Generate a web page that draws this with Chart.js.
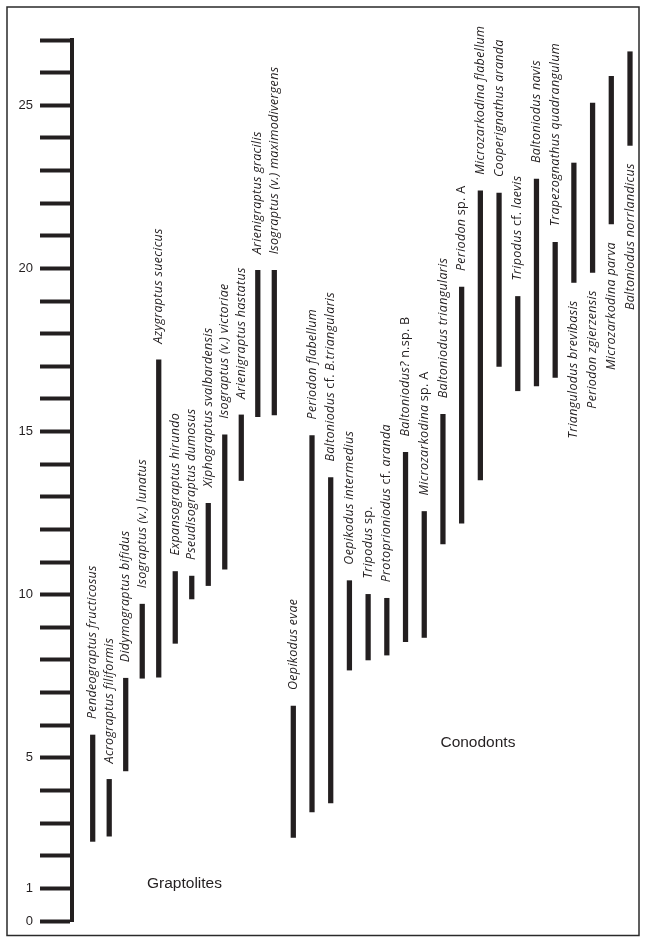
<!DOCTYPE html>
<html>
<head>
<meta charset="utf-8">
<script src="https://cdn.jsdelivr.net/npm/chart.js@4.4.1/dist/chart.umd.min.js"></script>
<style>
  html, body { margin: 0; padding: 0; background: #fff; }
  canvas { display: block; }
</style>
</head>
<body>
<canvas id="c" width="646" height="943"></canvas>
<script>
// Stratigraphic ranges (levels 0-27) of graptolite and conodont taxa
const graptoliteTaxa = [
  'Pendeograptus fructicosus', 'Acrograptus filiformis', 'Didymograptus bifidus',
  'Isograptus (v.) lunatus', 'Azygraptus suecicus', 'Expansograptus hirundo',
  'Pseudisograptus dumosus', 'Xiphograptus svalbardensis', 'Isograptus (v.) victoriae',
  'Arienigraptus hastatus', 'Arienigraptus gracilis', 'Isograptus (v.) maximodivergens'
];
const graptoliteBase = [2.44, 2.60, 4.60, 7.44, 7.47, 8.51, 9.87, 10.28, 10.78, 13.50, 15.46, 15.51];
const graptoliteTop  = [5.70, 4.34, 7.44, 9.71, 17.20, 10.71, 10.57, 12.80, 14.90, 15.51, 19.94, 19.94];

const conodontTaxa = [
  'Oepikodus evae', 'Periodon flabellum', 'Baltoniodus cf. B.triangularis',
  'Oepikodus intermedius', 'Tripodus sp.', 'Protoprioniodus cf. aranda',
  'Baltoniodus? n.sp. B', 'Microzarkodina sp. A', 'Baltoniodus triangularis',
  'Periodon sp. A', 'Microzarkodina flabellum', 'Cooperignathus aranda',
  'Tripodus cf. laevis', 'Baltoniodus navis', 'Trapezognathus quadrangulum',
  'Triangulodus brevibasis', 'Periodon zgierzensis', 'Microzarkodina parva',
  'Baltoniodus norrlandicus'
];
const conodontBase = [2.56, 3.34, 3.62, 7.69, 8.00, 8.15, 8.56, 8.69, 11.56, 12.19, 13.52, 17.00,
                      16.25, 16.40, 16.66, 19.57, 19.88, 21.36, 23.77];
const conodontTop  = [6.59, 14.88, 13.59, 10.43, 10.01, 9.89, 14.36, 12.55, 15.53, 19.43, 22.38, 22.31,
                      19.14, 22.74, 20.80, 23.23, 25.07, 25.89, 26.64];

const levelLabels = [0, 1, 5, 10, 15, 20, 25];
const levelMin = 0;
const levelMax = 27;

// ---- layout and style ----
const INK = '#231f20';
const PLOT_LEFT = 72;     // axis line
const PLOT_RIGHT = 640;
const graptoliteSpan = [92.7, 274.3];   // first / last graptolite column
const conodontSpan = [293.3, 630];      // first / last conodont column
const LABEL_GAP_ABOVE = 16;
const LABEL_GAP_BELOW = 18;
const labelsBelow = new Set(['Triangulodus brevibasis', 'Periodon zgierzensis',
                             'Microzarkodina parva', 'Baltoniodus norrlandicus']);
const LABEL_SIZE = 12.5;
const LABEL_TRACKING = '0.3px';
const LABEL_FAMILY = '"Open Sans", "Noto Sans", sans-serif';
const UPRIGHT_WORDS = /^(sp\.|n\.sp\.|cf\.|A|B)$/;

function columnScale(span, n) {
  const step = (span[1] - span[0]) / (n - 1);
  const min = -(span[0] - PLOT_LEFT) / step;
  return { min, max: min + (PLOT_RIGHT - PLOT_LEFT) / step };
}
const gCols = columnScale(graptoliteSpan, graptoliteTaxa.length);
const cCols = columnScale(conodontSpan, conodontTaxa.length);

const toRanges = (base, top) => base.map((b, i) => ({ x: i, y: [b, top[i]] }));

// taxon names as upright / italic runs
function runs(name) {
  return name.split(' ').map((w, i) => ({ text: (i ? ' ' : '') + w, italic: !UPRIGHT_WORDS.test(w) }));
}
function fontFor(run) {
  return (run.italic ? 'italic ' : '') + LABEL_SIZE + 'px ' + LABEL_FAMILY;
}

const frame = {
  id: 'frame',
  afterDraw(chart) {
    const ctx = chart.ctx;
    ctx.save();
    ctx.strokeStyle = '#2a2a2a';
    ctx.lineWidth = 1.5;
    ctx.strokeRect(7, 7, 632, 928.5);
    ctx.restore();
  }
};

const rangeLabels = {
  id: 'rangeLabels',
  afterDatasetsDraw(chart) {
    const ctx = chart.ctx;
    ctx.save();
    ctx.fillStyle = INK;
    ctx.textBaseline = 'middle';
    ctx.textAlign = 'left';
    if ('letterSpacing' in ctx) ctx.letterSpacing = LABEL_TRACKING;
    chart.data.datasets.forEach((ds, di) => {
      const meta = chart.getDatasetMeta(di);
      meta.data.forEach((bar, i) => {
        const name = ds.taxa[i];
        const parts = runs(name);
        let total = 0;
        parts.forEach(p => { ctx.font = fontFor(p); p.w = ctx.measureText(p.text).width; total += p.w; });
        const top = Math.min(bar.y, bar.base);
        const bottom = Math.max(bar.y, bar.base);
        ctx.save();
        if (labelsBelow.has(name)) {
          ctx.translate(bar.x, bottom + LABEL_GAP_BELOW + total);
        } else {
          ctx.translate(bar.x, top - LABEL_GAP_ABOVE);
        }
        ctx.rotate(-Math.PI / 2);
        let x = 0;
        parts.forEach(p => { ctx.font = fontFor(p); ctx.fillText(p.text, x, 0); x += p.w; });
        ctx.restore();
      });
    });

    // group titles
    if ('letterSpacing' in ctx) ctx.letterSpacing = '0px';
    ctx.font = '15.5px "Liberation Sans", Arial, sans-serif';
    ctx.textAlign = 'center';
    const y = chart.scales.y;
    ctx.fillText('Graptolites', chart.scales.xg.getPixelForValue(5.56), y.getPixelForValue(1.13));
    ctx.fillText('Conodonts', chart.scales.xc.getPixelForValue(9.87), y.getPixelForValue(5.45));
    ctx.restore();
  }
};

new Chart(document.getElementById('c'), {
  type: 'bar',
  data: {
    datasets: [
      { label: 'Graptolites', taxa: graptoliteTaxa, data: toRanges(graptoliteBase, graptoliteTop),
        xAxisID: 'xg', yAxisID: 'y', backgroundColor: INK, barThickness: 4.6, grouped: false },
      { label: 'Conodonts', taxa: conodontTaxa, data: toRanges(conodontBase, conodontTop),
        xAxisID: 'xc', yAxisID: 'y', backgroundColor: INK, barThickness: 4.6, grouped: false }
    ]
  },
  options: {
    responsive: false,
    devicePixelRatio: 1,
    animation: false,
    layout: { padding: { top: 40, bottom: 22, left: 0, right: 646 - PLOT_RIGHT } },
    plugins: { legend: { display: false }, tooltip: { enabled: false } },
    scales: {
      xg: { type: 'linear', axis: 'x', position: 'bottom', display: false, offset: false,
            min: gCols.min, max: gCols.max },
      xc: { type: 'linear', axis: 'x', position: 'bottom', display: false, offset: false,
            min: cCols.min, max: cCols.max },
      y: {
        type: 'linear', position: 'left', min: levelMin, max: levelMax,
        afterFit(scale) { scale.width = PLOT_LEFT; },
        ticks: {
          stepSize: 1, autoSkip: false, padding: 7, color: INK,
          font: { family: '"Liberation Sans", Arial, sans-serif', size: 13 },
          callback: v => levelLabels.includes(v) ? String(v) : ''
        },
        grid: { drawOnChartArea: false, drawTicks: true, tickLength: 32, tickWidth: 4, tickColor: INK },
        border: { display: true, width: 4, color: INK }
      }
    }
  },
  plugins: [frame, rangeLabels]
});
</script>
</body>
</html>
